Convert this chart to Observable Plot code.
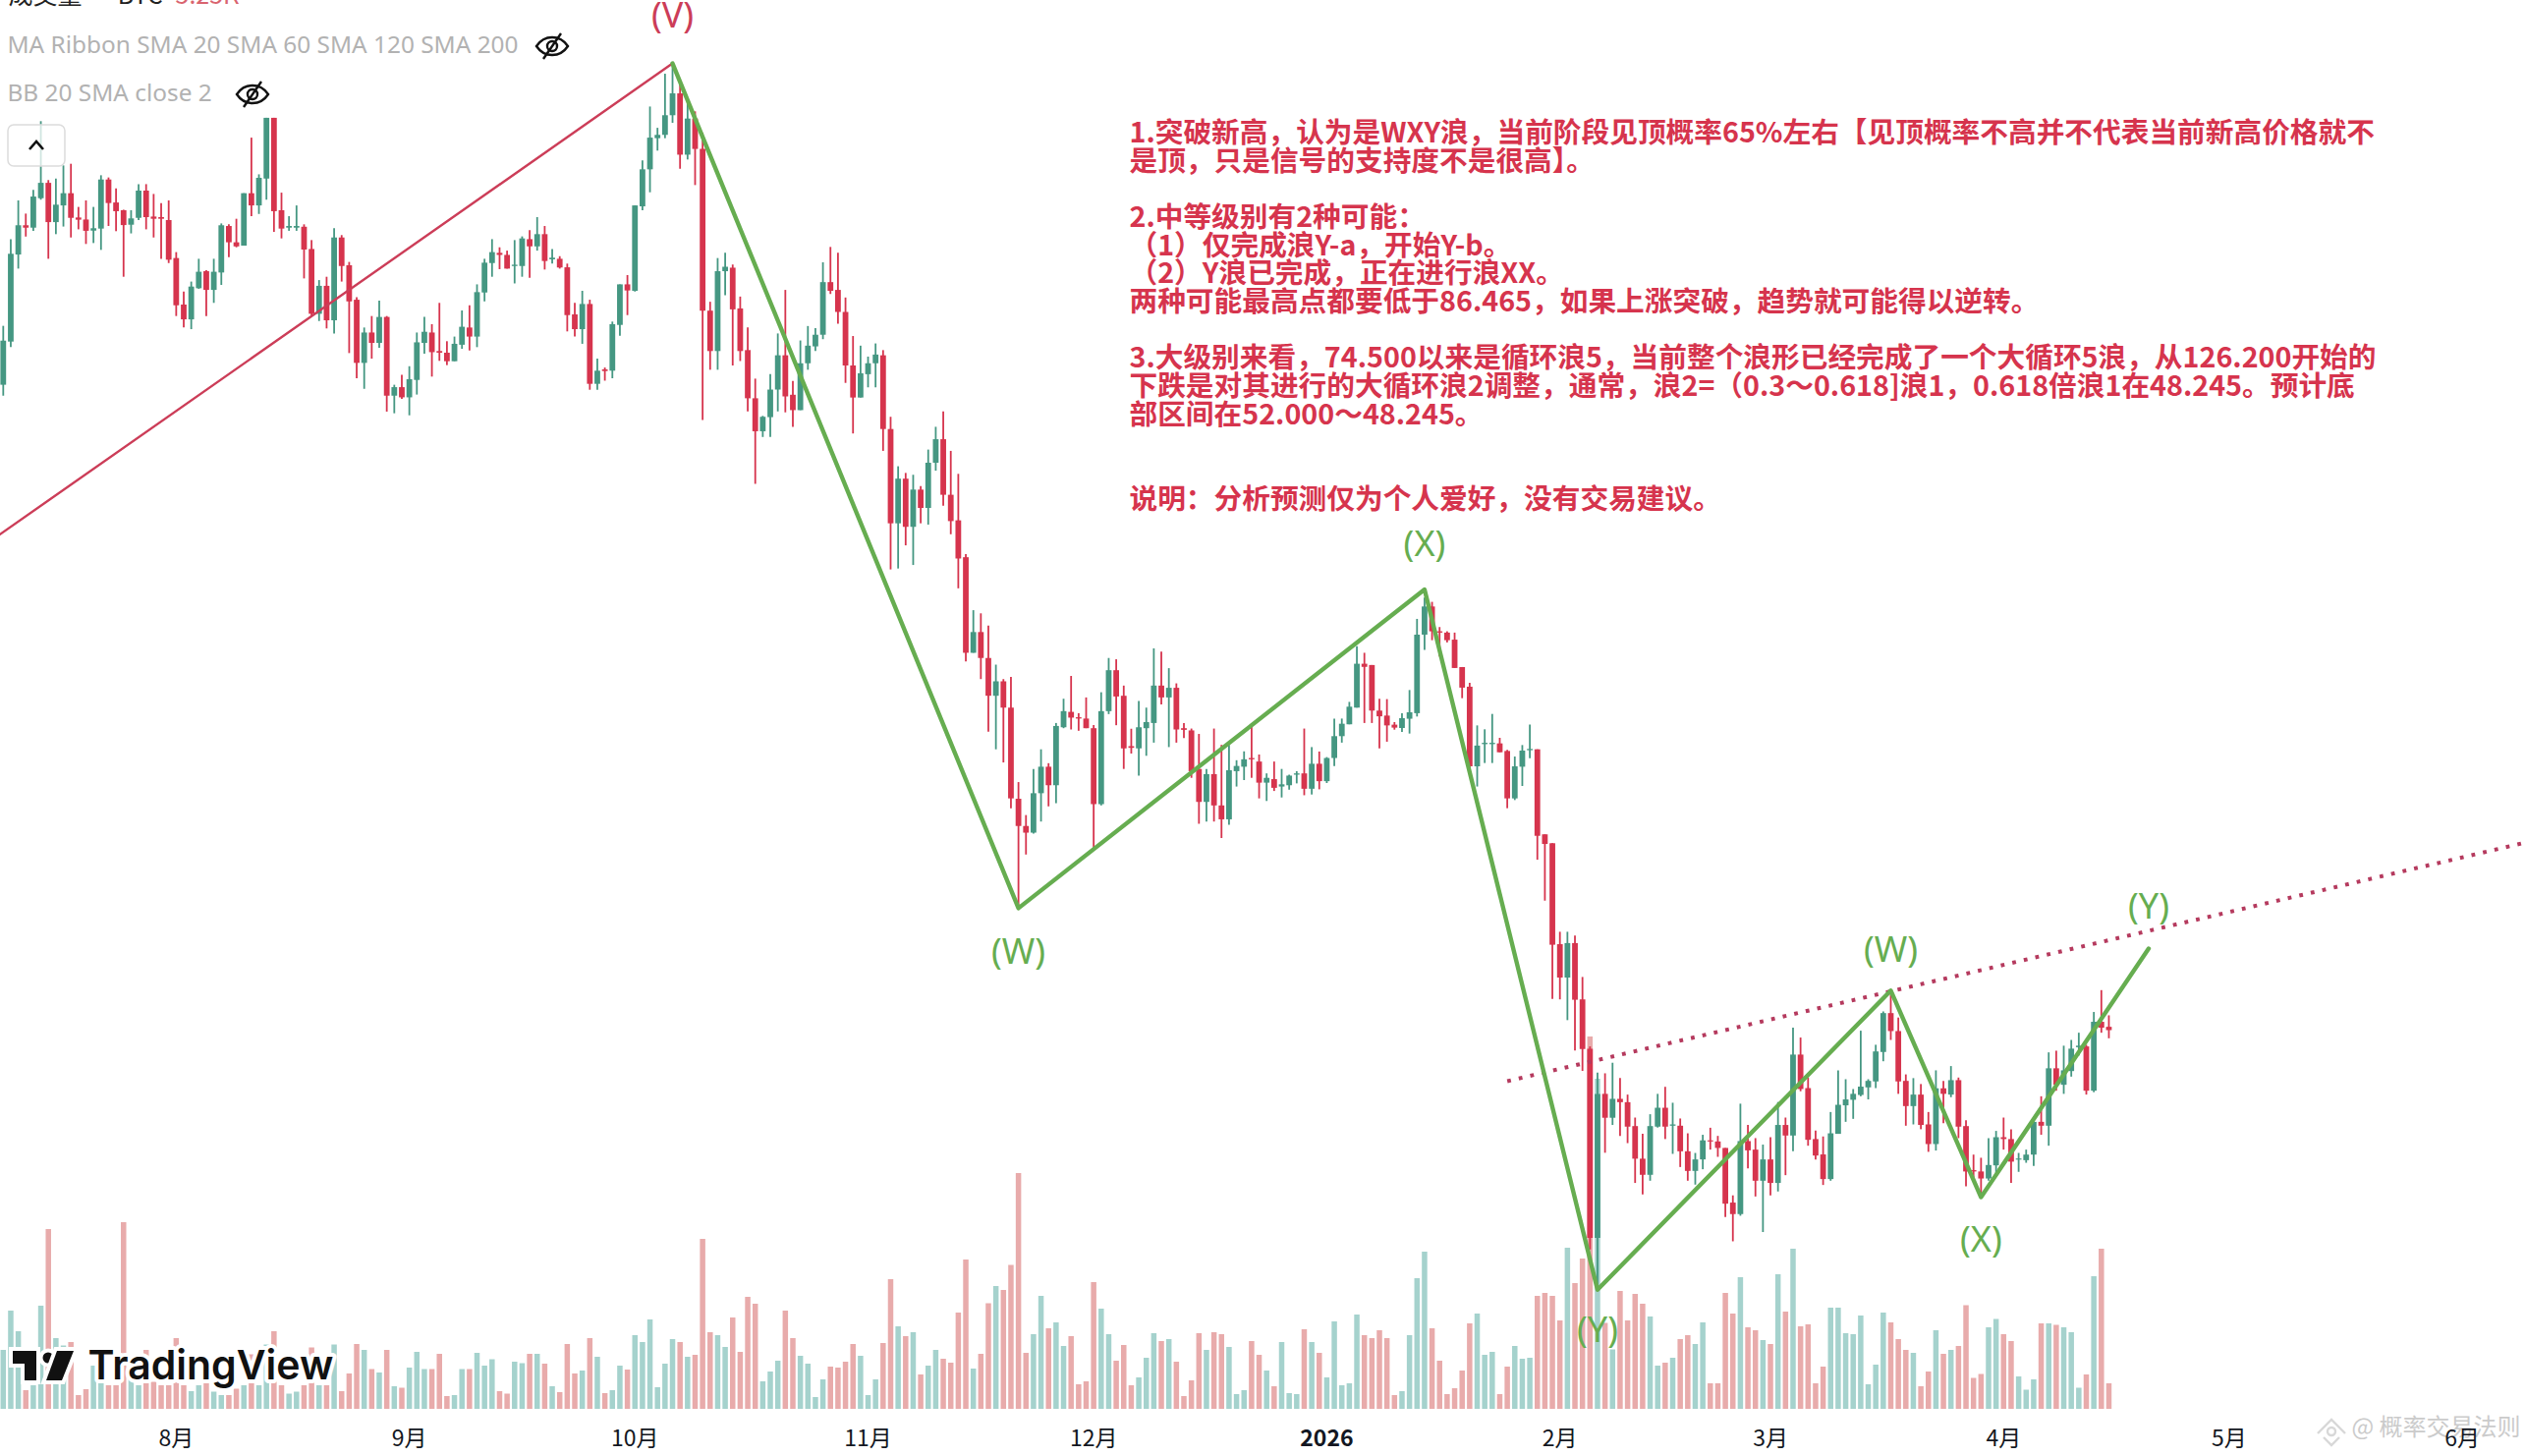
<!DOCTYPE html>
<html lang="zh"><head><meta charset="utf-8">
<script src="https://cdn.jsdelivr.net/npm/d3@7"></script>
<script src="https://cdn.jsdelivr.net/npm/@observablehq/plot@0.6"></script>
<style>
html,body{margin:0;padding:0;background:#fff;}
#wrap{position:relative;width:2570px;height:1482px;overflow:hidden;background:#fff;}
#wrap>*{position:absolute;left:0;top:0;}
</style></head><body><div id="wrap"></div>
<script>
// Daily BTC candles in thousands of USD, first candle 2025-07-09
const firstDay = [2025, 6, 9];
const opens = [
108.83,111.16,115.86,117.44,117.31,118.9,119.73,117.61,118.51,119.17,
117.86,117.75,117.15,117.26,119.91,118.67,118.25,117.47,117.84,119.31,
117.91,117.88,117.72,115.67,113.16,112.36,114.04,114.96,113.95,114.89,
117.4,116.52,116.34,119.17,118.51,119.96,123.24,118.25,117.31,117.31,
117.36,116.16,112.66,114.17,112.31,116.78,115.28,113.42,110.01,111.65,
111.09,112.49,108.24,108.7,108.15,109.09,111.09,111.65,110.65,110.56,
110.1,110.99,111.92,111.43,113.81,115.4,115.95,115.84,115.24,115.24,
116.69,116.3,116.96,115.6,115.63,115.17,112.63,111.83,113.19,108.88,
109.66,109.59,112.06,114.25,113.9,118.46,120.46,122.14,122.32,123.38,
124.56,121.25,123.2,121.56,112.83,110.65,114.96,115.15,112.95,110.7,
108.1,106.32,107.08,108.57,110.42,108.29,107.46,109.99,110.9,111.53,
114.37,113.95,112.76,109.87,108.14,109.4,109.99,110.42,106.44,101.35,
103.76,101.16,103.17,102.18,104.62,105.89,102.89,101.51,99.52,94.36,
95.48,94.08,92.04,92.82,91.4,86.48,85.01,84.65,86.78,88.21,
87.21,90.34,91.17,90.88,90.81,90.29,86.19,91.21,93.42,92.04,
89.32,89.2,90.29,90.57,92.59,91.95,92.47,90.29,90.17,88.09,
86.31,87.81,86.12,85.37,87.97,88.21,88.68,88.49,87.35,87.54,
87.14,87.21,87.78,87.85,87.02,88.37,87.43,88.68,89.86,90.5,
91.4,93.77,93.7,91.24,90.97,90.48,90.3,90.8,91.1,95.34,
96.86,95.52,95.45,95.07,93.59,92.53,88.23,89.43,89.43,89.47,
89.06,86.5,88.21,89.1,89.15,84.56,84.08,78.63,76.83,78.69,
75.65,72.99,62.77,70.55,69.26,70.28,70.1,68.81,67.05,66.18,
68.78,69.8,68.83,68.83,67.45,66.39,67.01,68.04,67.98,67.63,
64.68,64.06,68.0,67.54,65.86,67.01,65.74,68.87,68.3,72.67,
70.86,68.11,67.28,65.95,68.39,69.93,70.23,70.49,70.9,71.22,
72.81,74.91,73.94,71.25,69.89,70.51,68.9,67.84,70.85,70.51,
71.29,68.81,66.43,66.36,65.98,66.69,68.21,68.11,67.0,66.97,
67.27,69.04,68.83,71.93,71.04,71.78,73.07,73.11,70.72,74.44,74.17];
const highs = [
112.01,116.69,118.78,118.07,119.35,123.06,119.88,119.96,120.67,120.76,
118.43,118.78,118.43,120.14,120.02,119.43,118.28,118.25,119.66,119.66,
119.13,118.64,118.78,115.99,113.86,114.4,115.63,115.01,115.63,117.54,
117.49,117.79,119.17,122.17,120.19,123.24,123.24,119.2,117.93,118.51,
117.49,116.64,114.48,114.66,117.28,116.91,115.46,113.55,111.92,112.54,
113.37,112.54,108.83,109.36,109.83,111.65,112.49,112.1,113.25,111.18,
111.43,112.84,113.12,114.25,115.63,116.69,116.25,116.07,116.64,116.84,
117.17,117.88,117.4,116.16,115.77,115.37,113.25,113.9,113.42,110.24,
109.76,112.24,114.25,114.75,118.51,120.94,123.85,122.7,125.62,126.15,
125.09,124.12,123.59,122.44,113.31,115.67,115.96,115.32,113.59,111.93,
109.16,107.15,109.4,111.6,113.95,109.04,111.22,112.0,111.89,115.44,
116.27,115.96,113.54,111.46,110.94,110.35,111.06,110.7,107.1,104.43,
104.07,103.97,103.36,105.33,106.56,107.39,105.26,104.02,99.69,96.66,
96.49,95.83,93.72,92.94,93.06,87.38,85.6,88.09,89.15,88.4,
90.57,91.88,93.11,91.1,91.95,90.46,92.23,94.08,94.01,92.59,
90.26,91.76,91.4,94.6,94.43,93.53,92.71,90.57,90.27,89.98,
88.09,90.27,89.39,89.39,88.56,89.04,90.45,88.87,87.85,88.49,
88.09,87.78,87.97,90.27,89.27,89.03,88.73,90.81,90.81,91.71,
94.72,94.36,93.7,91.88,91.86,90.62,91.1,92.35,96.19,97.34,
97.11,95.75,95.52,95.45,93.59,92.74,90.44,90.23,91.06,89.77,
89.12,88.76,89.38,90.48,89.15,84.56,84.08,79.3,79.3,79.09,
76.86,73.11,71.7,71.66,72.23,71.4,70.51,69.27,68.39,69.45,
70.55,70.93,70.07,69.22,68.42,67.36,68.34,68.72,68.28,67.63,
65.07,70.02,68.87,68.16,67.81,68.21,70.11,69.27,74.12,73.59,
71.43,68.57,68.25,69.57,71.82,71.34,70.81,73.96,71.34,73.2,
75.0,76.12,74.67,71.6,71.4,71.08,69.57,71.82,71.25,72.05,
71.43,69.13,67.27,67.1,68.16,68.55,69.27,68.64,67.36,67.54,
69.22,70.42,72.79,72.88,73.15,73.46,73.85,73.2,74.97,76.15,74.79];
const lows = [
108.24,110.86,115.1,116.83,117.14,118.82,115.63,116.96,117.37,116.78,
117.22,116.43,116.48,116.11,117.4,117.12,114.66,117.0,117.72,117.22,
116.78,115.63,115.4,112.54,111.92,111.83,114.01,112.54,113.25,114.22,
115.72,116.25,116.34,117.93,118.05,118.82,117.08,116.73,117.14,117.14,
114.57,112.54,112.27,111.87,111.6,114.4,110.54,109.18,108.61,110.24,
110.82,107.38,107.29,108.07,107.18,108.3,110.51,109.27,110.12,109.89,
110.1,110.77,110.68,110.86,113.33,114.66,115.07,115.1,114.3,114.66,
114.6,116.07,115.05,115.37,115.1,111.71,111.43,111.04,108.56,108.56,
109.05,109.18,111.48,112.59,113.86,118.25,119.22,121.47,122.14,122.97,
120.49,120.99,119.61,106.93,109.64,109.64,113.66,109.87,110.11,107.39,
103.48,106.01,106.01,107.39,107.34,106.56,107.46,109.64,110.65,111.29,
113.73,112.12,108.93,106.2,108.14,108.69,108.69,105.26,98.86,98.91,
100.16,99.1,101.35,101.28,104.19,102.3,100.76,97.84,93.89,94.36,
92.94,90.1,89.15,88.44,85.96,80.6,83.47,84.6,85.25,86.07,
86.24,90.29,90.22,90.15,90.29,83.82,86.12,91.05,90.45,88.09,
88.92,87.73,88.8,89.51,91.57,89.27,89.51,89.75,87.61,85.13,
85.25,85.25,84.36,85.08,87.14,87.49,87.61,86.5,86.36,86.9,
86.55,86.97,87.31,86.67,86.71,86.99,87.33,88.25,89.51,90.5,
91.4,90.57,90.57,89.2,89.56,90.21,90.09,90.0,90.92,94.51,
95.04,94.16,94.92,93.54,91.91,87.79,87.14,88.41,88.41,88.99,
85.97,86.41,87.17,88.67,83.19,80.98,75.68,75.65,74.53,72.89,
71.79,62.15,60.0,67.37,68.87,68.28,67.89,65.74,65.12,65.86,
68.73,68.11,67.31,66.6,65.86,65.65,66.48,67.54,67.15,63.9,
62.59,63.97,66.53,65.01,63.09,65.07,65.28,66.16,67.45,70.69,
67.75,67.0,65.63,65.86,68.39,69.04,69.2,70.42,70.25,70.86,
72.31,73.46,70.55,68.83,68.9,68.64,67.42,67.49,68.96,70.37,
68.16,65.56,66.04,65.07,65.86,66.2,67.54,65.74,66.34,66.83,
66.66,68.34,67.75,70.72,70.55,71.48,72.62,70.51,70.64,73.85,73.55];
const closes = [
111.21,115.9,117.44,117.31,118.99,119.73,117.61,118.55,119.17,117.84,
117.74,117.14,117.28,119.91,118.64,118.2,117.45,117.81,119.31,117.88,
117.79,117.79,115.58,113.12,112.36,114.13,114.93,113.95,114.93,117.44,
116.52,116.3,119.17,118.51,120.0,123.24,118.2,117.26,117.4,117.4,
116.13,112.66,114.17,112.31,116.78,115.24,113.33,110.01,111.65,111.09,
112.49,108.24,108.7,108.15,109.13,111.12,111.69,110.59,110.56,110.1,
111.04,111.96,111.43,113.83,115.42,115.99,115.84,115.1,115.31,116.73,
116.3,116.96,115.51,115.69,115.16,112.59,111.83,113.19,108.88,109.59,
109.57,112.1,114.25,113.92,118.51,120.46,122.17,122.32,123.38,124.56,
121.25,123.2,121.56,112.83,110.65,114.96,115.2,112.9,110.65,108.1,
106.32,107.1,108.57,110.42,108.2,107.46,109.99,110.94,111.53,114.37,
113.9,112.76,109.87,108.14,109.45,109.99,110.46,106.44,101.35,103.76,
101.16,103.17,102.18,104.62,105.89,102.89,101.47,99.45,94.36,95.48,
94.08,92.04,92.82,91.4,86.5,85.01,84.65,86.78,88.21,87.21,
90.41,91.21,90.86,90.81,90.29,86.19,91.21,93.42,92.0,89.2,
89.23,90.34,90.62,92.59,91.95,92.47,90.22,90.2,87.97,86.31,
87.81,86.12,85.37,88.02,88.25,88.61,88.61,87.35,87.61,87.07,
87.26,87.73,87.85,87.02,88.37,87.43,88.68,89.86,90.53,91.45,
93.77,93.6,91.24,90.93,90.44,90.32,90.83,91.15,95.34,96.86,
95.52,95.45,95.04,93.54,92.48,88.23,89.35,89.5,89.5,88.99,
86.5,88.23,89.08,89.17,84.48,84.04,78.6,76.83,78.69,75.63,
72.97,62.77,70.55,69.26,70.28,70.1,68.78,67.05,66.18,68.81,
69.8,68.78,68.9,67.45,66.39,67.01,68.04,67.98,67.63,64.62,
64.06,68.0,67.5,65.86,67.01,65.74,68.87,68.3,72.67,70.81,
68.07,67.22,65.95,68.42,69.96,70.25,70.55,70.94,71.25,72.84,
74.91,73.94,71.22,69.89,70.51,68.87,67.84,70.85,70.55,71.29,
68.78,66.36,66.36,65.98,66.71,68.21,68.11,66.89,67.06,67.27,
69.04,68.83,71.93,71.04,71.82,72.99,73.15,70.72,74.44,74.12,73.99];
// Daily volume, thousands of BTC
const volumes = [
12.0,20.0,15.8,3.8,4.8,21.0,36.6,14.4,12.9,13.6,
2.8,4.0,8.8,8.1,4.8,4.8,38.0,6.8,4.8,12.0,
5.5,4.8,4.8,14.4,4.8,3.6,4.8,5.5,3.5,2.8,
2.8,4.1,4.8,11.1,4.8,13.1,15.8,4.8,3.1,3.5,
4.8,12.5,4.8,4.8,13.1,3.6,7.2,13.2,12.0,8.1,
7.4,12.0,4.6,4.3,8.4,11.6,8.1,8.1,11.2,2.6,
2.8,8.1,8.1,11.4,8.8,10.1,3.6,3.1,9.6,9.3,
11.2,11.2,9.2,4.6,3.4,13.2,7.2,7.8,14.4,10.6,
3.2,3.8,8.8,8.0,15.0,13.6,18.2,4.4,9.2,14.2,
13.6,10.6,11.0,34.6,15.6,15.0,12.6,18.6,11.6,22.8,
21.4,5.6,7.6,9.8,20.0,14.4,10.8,9.2,2.4,6.0,
8.6,8.4,9.6,13.2,10.8,2.8,6.0,13.4,26.4,16.8,
14.8,15.6,7.0,8.8,12.0,10.2,9.4,19.6,30.4,8.2,
11.2,21.5,25.0,24.2,29.3,48.0,11.4,15.2,23.0,16.4,
17.6,12.8,14.8,5.0,5.6,25.8,20.4,15.2,9.8,13.0,
4.8,6.4,10.4,15.4,13.8,14.2,9.6,2.6,5.8,15.4,
12.0,15.6,15.2,12.6,3.0,3.8,13.8,11.0,7.8,4.6,
13.6,3.2,3.0,16.2,13.6,11.4,6.4,17.8,4.8,5.2,
19.2,15.0,14.4,16.0,14.4,2.8,3.6,15.0,26.6,32.0,
16.4,9.8,3.0,4.2,7.8,17.4,19.4,11.0,11.6,3.0,
8.6,12.8,10.2,10.4,23.0,23.6,23.0,18.0,32.8,25.6,
30.6,75.8,67.2,17.5,12.1,24.0,18.0,23.4,21.4,18.8,
8.8,9.4,10.4,14.2,15.0,13.2,17.6,5.2,5.2,23.6,
19.4,26.8,16.6,16.0,14.0,13.2,27.4,19.8,32.6,16.8,
17.2,5.2,8.6,20.6,20.6,15.4,15.2,19.0,5.0,9.0,
19.6,17.6,14.2,12.0,11.4,4.6,7.6,16.0,11.2,12.0,
12.8,21.1,6.3,7.1,16.6,18.3,15.2,13.8,6.6,3.9,
6.0,17.4,17.4,17.1,16.6,15.6,4.3,7.0,27.0,32.6,5.2];

// Axis
const tickDates = ["2025-08-01","2025-09-01","2025-10-01","2025-11-01","2025-12-01","2026-02-01","2026-03-01","2026-04-01","2026-05-01","2026-06-01"];
const tickLabels = ["8月","9月","10月","11月","12月","2月","3月","4月","5月","6月"];
const yearTick = "2026-01-01", yearLabel = "2026";

// Wave drawings
const peakDates = ["2025-07-08","2025-10-06"];
const peakPrices = [100.62,126.2];
const waveDates = ["2025-10-06","2025-11-21","2026-01-14","2026-02-06","2026-03-17","2026-03-29","2026-04-20T07:00Z"];
const wavePrices = [126.2,80.6,97.8,60.0,76.15,65.0,78.42];
const trendDates = ["2026-01-25","2026-06-10"];
const trendPrices = [71.26,84.2];

const waveLabels = ["(W)","(X)","(Y)","(W)","(X)","(Y)"];
const waveLabelDates = ["2025-11-21","2026-01-14","2026-02-06","2026-03-17","2026-03-29","2026-04-20T07:00Z"];
const waveLabelPrices = [78.2,100.2,57.8,78.3,62.66,80.64];
const topLabel = "(V)", topLabelDate = "2025-10-06", topLabelPrice = 128.75;

const note = [
"1.突破新高，认为是WXY浪，当前阶段见顶概率65%左右【见顶概率不高并不代表当前新高价格就不",
"是顶，只是信号的支持度不是很高】。",
"",
"2.中等级别有2种可能：",
"（1）仅完成浪Y-a，开始Y-b。",
"（2）Y浪已完成，正在进行浪XX。",
"两种可能最高点都要低于86.465，如果上涨突破，趋势就可能得以逆转。",
"",
"3.大级别来看，74.500以来是循环浪5，当前整个浪形已经完成了一个大循环5浪，从126.200开始的",
"下跌是对其进行的大循环浪2调整，通常，浪2=（0.3～0.618]浪1，0.618倍浪1在48.245。预计底",
"部区间在52.000～48.245。",
"",
"",
"说明：分析预测仅为个人爱好，没有交易建议。"].join("\n");

const GREEN="#459782", RED="#d6344d", VGREEN="#a5d2cd", VRED="#e8abab", WAVE="#66ad50", PEAK="#cc3d58", DOT="#b53a5e";
const CJK = '"Noto Sans CJK SC","Noto Sans",sans-serif';

const candles = opens.map((o,i)=>({
  date:new Date(Date.UTC(firstDay[0],firstDay[1],firstDay[2]+i)),
  o, h:highs[i], l:lows[i], c:closes[i], v:volumes[i], up:closes[i]>=o
}));
const d = s => new Date(s);
const xOpts = {type:"utc", domain:[d("2025-07-08T15:13Z"),d("2026-06-09T09:36Z")], range:[0,2570]};
const zip = (xs,ys)=>xs.map((x,i)=>({x:d(x),y:ys[i]}));

const volPlot = Plot.plot({
  width:2570,height:1482,marginTop:0,marginRight:0,marginLeft:0,marginBottom:48,
  style:{background:"transparent",fontFamily:CJK,color:"#131722"},
  x:xOpts,
  y:{domain:[0,286.8],range:[1434,0],axis:null},
  marks:[
    Plot.ruleX(candles,{x:"date",y1:0,y2:"v",stroke:c=>c.up?VGREEN:VRED,strokeWidth:5.5}),
    Plot.text(["@ 概率交易法则"],{text:t=>t,frameAnchor:"top-left",dx:2393,dy:1443,fontSize:24,fill:"#cbcbcb",fontFamily:CJK}),
    Plot.axisX({ticks:tickDates.map(d),tickFormat:t=>tickLabels[tickDates.findIndex(s=>+d(s)===+t)],
      tickSize:0,tickPadding:21,fontSize:23,label:null,fill:"#131722"}),
    Plot.axisX({ticks:[d(yearTick)],tickFormat:()=>yearLabel,tickSize:0,tickPadding:21,fontSize:23,fontWeight:"bold",label:null,fill:"#131722"})
  ]
});

const pricePlot = Plot.plot({
  width:2570,height:1482,marginTop:0,marginRight:0,marginLeft:0,marginBottom:0,
  style:{background:"transparent",fontFamily:CJK},
  x:{...xOpts,axis:null},
  y:{domain:[51,129.6],range:[1482,0],axis:null},
  marks:[
    Plot.ruleX(candles,{x:"date",y1:"l",y2:"h",stroke:c=>c.up?GREEN:RED,strokeWidth:1.8}),
    Plot.ruleX(candles,{x:"date",y1:"o",y2:"c",stroke:c=>c.up?GREEN:RED,strokeWidth:5.8}),
    Plot.line(zip(peakDates,peakPrices),{x:"x",y:"y",stroke:PEAK,strokeWidth:2.4,clip:true}),
    Plot.line(zip(trendDates,trendPrices),{x:"x",y:"y",stroke:DOT,strokeWidth:4,strokeDasharray:"3.8 8.2",strokeLinecap:"butt",clip:true}),
    Plot.line(zip(waveDates,wavePrices),{x:"x",y:"y",stroke:WAVE,strokeWidth:4.4}),
    Plot.text(waveLabels,{x:(_,i)=>d(waveLabelDates[i]),y:(_,i)=>waveLabelPrices[i],text:t=>t,fill:WAVE,fontSize:36,fontFamily:'"Noto Sans"'}),
    Plot.text([topLabel],{x:()=>d(topLabelDate),y:()=>topLabelPrice,text:t=>t,fill:PEAK,fontSize:36,fontFamily:'"Noto Sans"'}),
    Plot.text([note],{text:t=>t,frameAnchor:"top-left",dx:1149,dy:124,lineHeight:1,fontSize:28.7,fontWeight:"bold",fill:"#d6344d",fontFamily:CJK}),
    Plot.text(["成交量 · BTC"],{text:t=>t,frameAnchor:"top-left",dx:8,dy:-14,fontSize:25,fill:"#222",fontFamily:CJK}),
    Plot.text(["5.25K"],{text:t=>t,frameAnchor:"top-left",dx:178,dy:-14,fontSize:25,fill:"#d9646f",fontFamily:CJK}),
    Plot.text(["MA Ribbon SMA 20 SMA 60 SMA 120 SMA 200"],{text:t=>t,frameAnchor:"top-left",dx:7,dy:36,fontSize:24.4,fill:"#b2b2b2",fontFamily:'"Noto Sans"'}),
    Plot.text(["BB 20 SMA close 2"],{text:t=>t,frameAnchor:"top-left",dx:7,dy:85,fontSize:24.4,fill:"#b2b2b2",fontFamily:'"Noto Sans"'}),
    Plot.text(["TradingView"],{text:t=>t,frameAnchor:"top-left",dx:89,dy:1374,fontSize:41,fontWeight:600,fill:"#111",stroke:"#fff",strokeWidth:8,paintOrder:"stroke",fontFamily:'Inter'})
  ]
});

const eye = (x,y)=>`<g transform="translate(${x},${y})" fill="none" stroke="#111" stroke-width="2.4">
 <path d="M-16 0 C-8 -12 8 -12 16 0 C8 12 -8 12 -16 0Z"/><circle r="5"/><path d="M-9 13 L9 -13"/></g>`;
const overlay = `<svg width="2570" height="1482" xmlns="http://www.w3.org/2000/svg">
 ${eye(562,47)}${eye(257,96)}
 <rect x="8" y="127" width="58" height="42" rx="6" fill="#fff" fill-opacity=".75" stroke="#dcdcdc" stroke-width="1.5"/>
 <path d="M30 152 L37 144 L44 152" fill="none" stroke="#111" stroke-width="2.6"/>
 <g fill="#111" stroke="#fff" stroke-width="8" paint-order="stroke">
  <path d="M13 1375 h24 v30 h-12 v-17 h-12z"/><circle cx="49" cy="1382" r="5.5"/><path d="M58 1375 h17 l-12 30 h-16z"/>
 </g>
 <g transform="translate(2373,1457)" fill="none" stroke="#d8d8d8" stroke-width="2.4">
  <path d="M-14 2 L0 -12 L14 2 M-8 6 L0 14 L8 6"/><circle r="4"/>
 </g>
</svg>`;
const wrap = document.getElementById("wrap");
wrap.append(volPlot, pricePlot);
const holder = document.createElement("div");
holder.innerHTML = overlay;
wrap.append(holder.firstElementChild);
</script></body></html>
